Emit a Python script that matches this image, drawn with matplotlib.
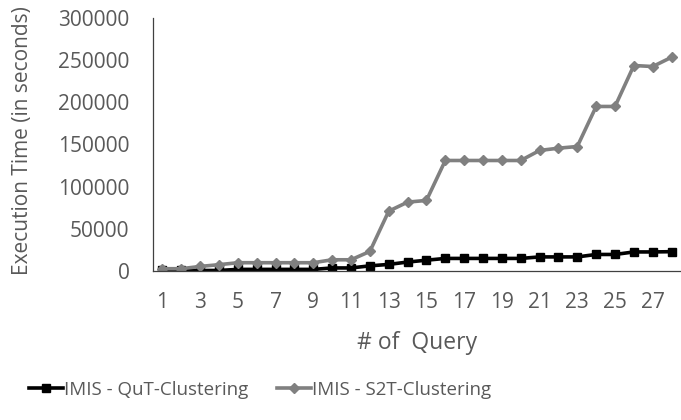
import numpy as np
import matplotlib
matplotlib.use("Agg")
import matplotlib.pyplot as plt

plt.rcParams['font.family'] = ['Open Sans', 'DejaVu Sans']

queries = list(range(1, 29))
qut_times = [500, 500, 500, 500, 1800, 1800, 1800, 1800, 1800, 3500,
             3500, 6000, 7700, 10500, 12700, 14800, 14800, 14800, 14800, 14800,
             16600, 16600, 16600, 19500, 19500, 22500, 22500, 22800]
s2t_times = [2600, 2600, 5300, 7400, 9700, 9700, 9700, 9700, 9700, 13200,
             13200, 23100, 70900, 81600, 83600, 131000, 131000, 131000, 131000, 131000,
             142900, 145600, 147600, 195100, 195100, 243700, 242500, 253500]
x_labels = [str(q) if q % 2 == 1 else "" for q in queries]
y_ticks = [0, 50000, 100000, 150000, 200000, 250000, 300000]

txt = "#595959"

fig = plt.figure(figsize=(6.81, 4.2), dpi=100)
ax = fig.add_axes([0.2247, 0.355, 0.7753, 0.602])

ax.plot(queries, qut_times, color="black", linewidth=2.6, marker="s",
        markersize=6, label="IMIS - QuT-Clustering")
ax.plot(queries, s2t_times, color="#808080", linewidth=2.6, marker="D",
        markersize=5.5, label="IMIS - S2T-Clustering")

ax.set_xlim(0.5, 28.5)
ax.set_ylim(0, 300000)
ax.set_xticks(queries)
ax.set_xticklabels(x_labels)
ax.set_yticks(y_ticks)
ax.set_yticklabels([str(v) for v in y_ticks])
ax.tick_params(axis="both", length=0, labelsize=15, colors=txt)
ax.tick_params(axis="y", pad=17)
ax.tick_params(axis="x", pad=15)

for side in ["top", "right"]:
    ax.spines[side].set_visible(False)
ax.spines["left"].set_color("#404040")
ax.spines["bottom"].set_color("#404040")
ax.spines["left"].set_linewidth(0.9)
ax.spines["bottom"].set_linewidth(0.9)

ax.set_xlabel("# of  Query", fontsize=16.5, color=txt, va="center")
ax.xaxis.set_label_coords(0.5, -0.285)
ax.set_ylabel("Execution Time (in seconds)", fontsize=15, color=txt, va="center")
ax.yaxis.set_label_coords(-0.247, 0.515)

fig.legend(loc="center", bbox_to_anchor=(260 / 681, 1 - 390 / 420), ncol=2,
           frameon=False, fontsize=13.5, labelcolor=txt, handlelength=1.8,
           handletextpad=0.05, columnspacing=1.55)

fig.savefig("out.png", dpi=100)
